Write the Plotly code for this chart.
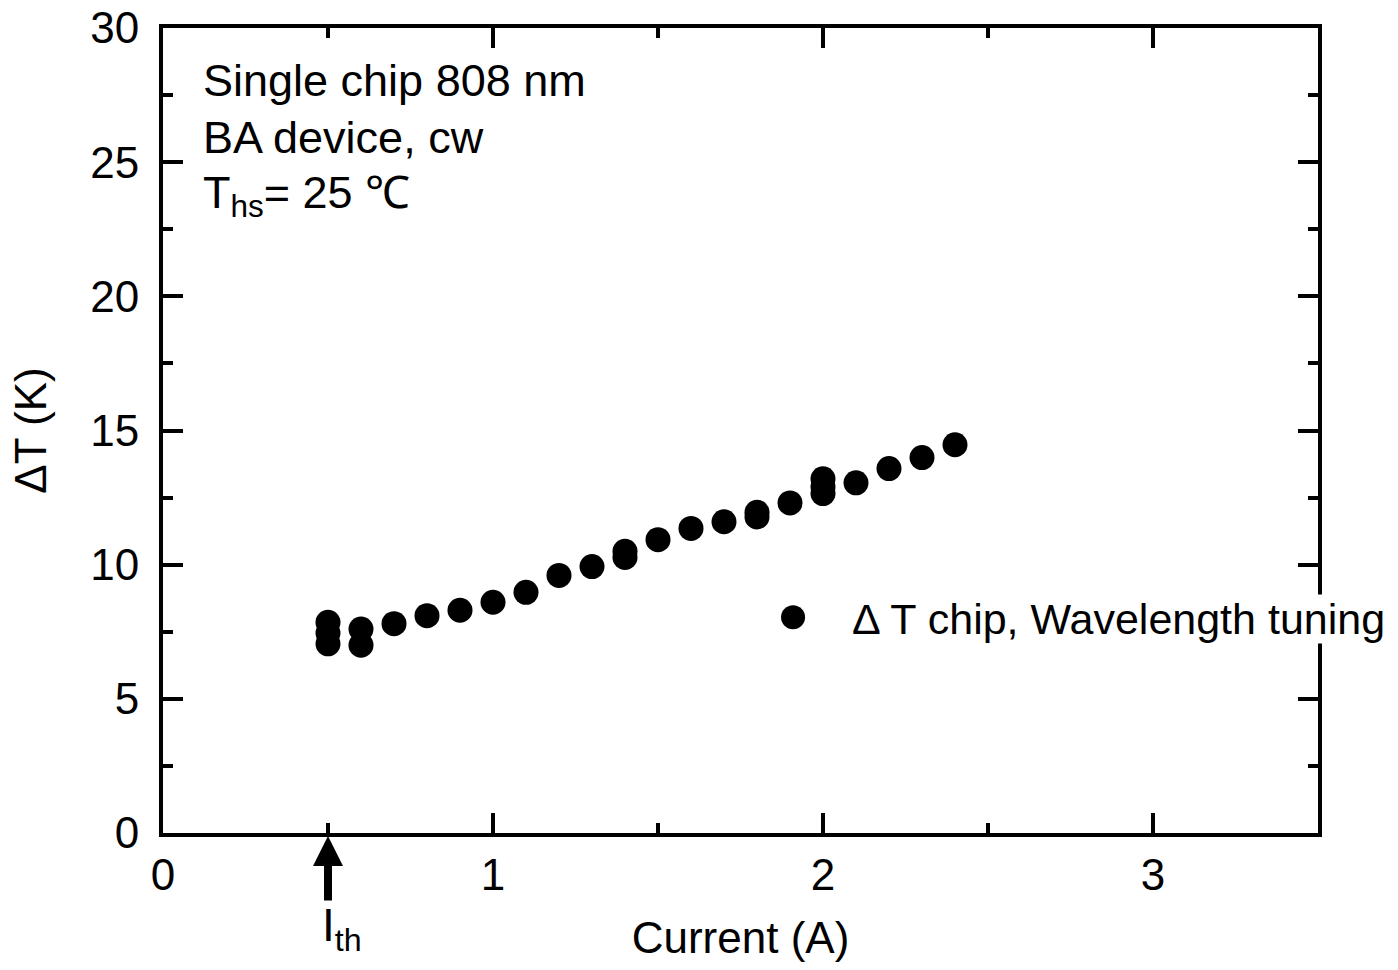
import plotly.graph_objects as go

# Heat-sink referenced chip temperature rise vs. drive current
current_a = [0.5, 0.5, 0.5, 0.6, 0.6, 0.7, 0.8, 0.9, 1.0, 1.1, 1.2, 1.3,
             1.4, 1.4, 1.5, 1.6, 1.7, 1.8, 1.8, 1.9, 2.0, 2.0, 2.0,
             2.1, 2.2, 2.3, 2.4]
delta_t_k = [7.85, 7.45, 7.05, 7.6, 7.0, 7.8, 8.1, 8.3, 8.6, 8.97, 9.6, 9.93,
             10.5, 10.27, 10.93, 11.35, 11.6, 11.95, 11.78, 12.3, 13.2, 12.9, 12.65,
             13.05, 13.58, 13.99, 14.47]
series_name = "\u0394 T chip, Wavelength tuning"

x_ticks = [0, 1, 2, 3]
y_ticks = [0, 5, 10, 15, 20, 25, 30]
threshold_current = 0.5

FONT = "Liberation Sans, Arial, sans-serif"
FS = 44

fig = go.Figure()
fig.add_trace(go.Scatter(
    x=current_a, y=delta_t_k, mode="markers", name=series_name,
    showlegend=False,
    marker=dict(color="black", size=25, symbol="circle"),
))

axis_common = dict(
    showline=True, linecolor="black", linewidth=4,
    ticks="inside", tickwidth=4, ticklen=20, tickcolor="black",
    mirror="ticks", showgrid=False, zeroline=False, automargin=False,
    tickfont=dict(family=FONT, size=FS, color="black"),
)

fig.update_xaxes(
    range=[0, 3.5], tickvals=x_ticks, ticklabelstandoff=0,
    minor=dict(ticks="inside", dtick=0.5, ticklen=10, tickwidth=4, tickcolor="black"),
    title=dict(text="Current (A)", font=dict(family=FONT, size=FS, color="black"), standoff=25),
    **axis_common,
)
fig.update_yaxes(
    range=[0, 30], tickvals=y_ticks, ticklabelstandoff=11,
    minor=dict(ticks="inside", dtick=2.5, ticklen=10, tickwidth=4, tickcolor="black"),
    title=dict(text="\u0394T (K)", font=dict(family=FONT, size=FS, color="black"), standoff=31),
    **axis_common,
)

# Sample description
notes = ["Single chip 808 nm", "BA device, cw", "T<sub>hs</sub>= 25 \u2103"]
note_y = [0.935, 0.864, 0.792]
for txt, yy in zip(notes, note_y):
    fig.add_annotation(x=0.033, y=yy, xref="paper", yref="paper", text=txt,
                       showarrow=False, xanchor="left", yanchor="middle",
                       font=dict(family=FONT, size=45, color="black"))

# Threshold current marker
fig.add_annotation(x=threshold_current, y=0, xref="x", yref="y", text="",
                   showarrow=True, arrowhead=2, arrowsize=0.75, arrowwidth=8,
                   arrowcolor="black", ax=0, ay=69, standoff=3)
fig.add_annotation(x=threshold_current, y=-0.119, xref="x", yref="paper",
                   text="I<sub>th</sub>", showarrow=False, xanchor="left",
                   xshift=-8, yanchor="middle",
                   font=dict(family=FONT, size=46, color="black"))

# Legend key: filled circle plus series label (label box masks the frame)
kx, ky, kr = 0.5455, 0.268, 12
fig.add_shape(type="circle", xref="paper", yref="paper",
              xsizemode="pixel", ysizemode="pixel",
              xanchor=kx, yanchor=ky,
              x0=-kr, x1=kr, y0=-kr, y1=kr,
              fillcolor="black", line=dict(color="black", width=0), layer="above")
fig.add_annotation(x=0.596, y=0.266, xref="paper", yref="paper", text=series_name,
                   showarrow=False, xanchor="left", yanchor="middle",
                   bgcolor="white", borderpad=0,
                   font=dict(family=FONT, size=43, color="black"))

fig.update_layout(
    width=1398, height=970,
    margin=dict(l=163, r=80, t=28, b=137),
    plot_bgcolor="white", paper_bgcolor="white",
    font=dict(family=FONT, size=FS, color="black"),
    showlegend=False,
)

fig.write_html("out.html")
